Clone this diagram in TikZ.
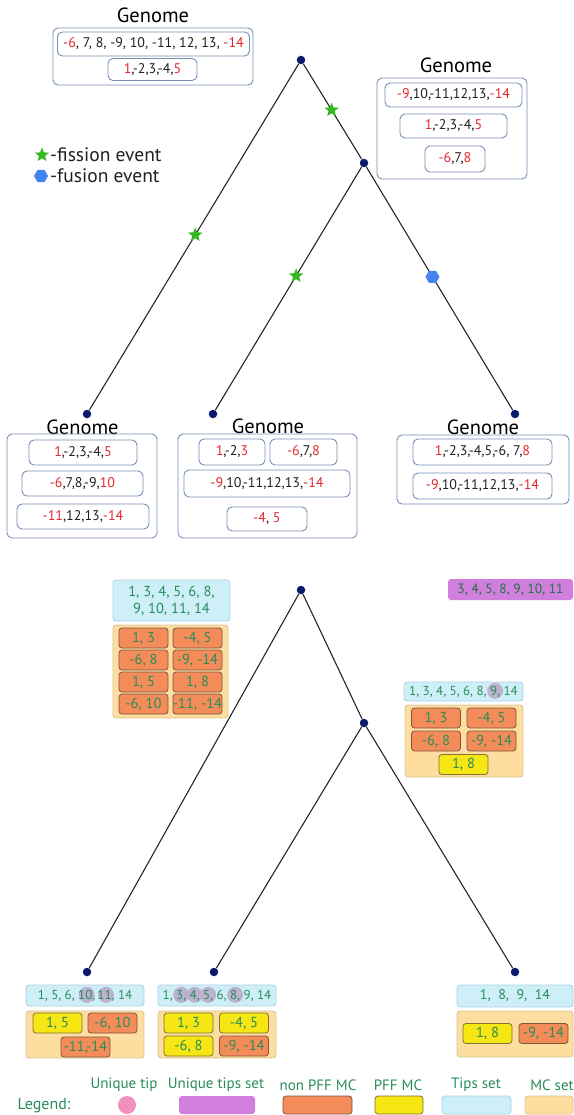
\documentclass[tikz,border=0pt]{standalone}
\usepackage{fontspec}
\setmainfont{PT Sans}
\usetikzlibrary{shapes.geometric}
\definecolor{gborder}{RGB}{120,140,180}
\definecolor{gred}{RGB}{228,38,45}
\definecolor{gtext}{RGB}{35,31,32}
\definecolor{navy}{RGB}{10,25,110}
\definecolor{stargreen}{RGB}{50,185,30}
\definecolor{hexblue}{RGB}{70,130,240}
\definecolor{tipfill}{RGB}{206,239,247}
\definecolor{tipdraw}{RGB}{170,210,225}
\definecolor{mcfill}{RGB}{253,222,160}
\definecolor{mcdraw}{RGB}{215,195,150}
\definecolor{npfill}{RGB}{244,140,90}
\definecolor{npdraw}{RGB}{125,85,65}
\definecolor{pffill}{RGB}{245,230,20}
\definecolor{pfdraw}{RGB}{130,115,50}
\definecolor{utsfill}{RGB}{208,128,220}
\definecolor{utfill}{RGB}{240,145,185}
\definecolor{ngreen}{RGB}{40,140,90}
\definecolor{hlc}{RGB}{188,178,208}
\newcommand\R[1]{\textcolor{gred}{#1}}
\newcommand\gfont{\fontsize{14}{16}\selectfont}
\newcommand\nfont{\fontsize{13}{16}\selectfont}
\newcommand\bfontsz{\fontsize{14.5}{17}\selectfont}
\newcommand\hlnum[1]{\tikz[baseline=(hq.base)]{\fill[hlc,overlay] (0pt,4.3pt) circle (8pt);\node[anchor=base,inner sep=0pt,outer sep=0pt,minimum width=0pt,minimum height=0pt,draw=none,fill=none,rounded corners=0pt,text=ngreen] (hq) at (0pt,0pt) {#1};}}
\begin{document}
\begin{tikzpicture}[x=1pt,y=-1pt,
  gout/.style={draw=gborder, rounded corners=5pt, line width=0.9pt},
  gin/.style={draw=gborder, rounded corners=5pt, line width=0.9pt, fill=white, font=\gfont, text=gtext, inner sep=0pt},
  glab/.style={font=\fontsize{20.5}{22}\selectfont, text=black, inner sep=0pt},
  tn/.style={circle, fill=navy, minimum size=8.5pt, inner sep=0pt},
  treeline/.style={line width=1.1pt, draw=black!85},
  fstar/.style={star, star points=5, star point ratio=2.3, fill=stargreen, minimum size=15pt, inner sep=0pt},
  fhex/.style={regular polygon, regular polygon sides=6, fill=hexblue, minimum size=14pt, inner sep=0pt},
  tipsbox/.style={fill=tipfill, draw=tipdraw, rounded corners=3pt, line width=0.8pt, font=\nfont, text=ngreen, inner sep=0pt},
  mcset/.style={fill=mcfill, draw=mcdraw, rounded corners=3pt, line width=0.8pt, inner sep=0pt},
  npff/.style={fill=npfill, draw=npdraw, rounded corners=3pt, line width=0.8pt, font=\bfontsz, text=ngreen, minimum width=49, minimum height=20, inner sep=0pt},
  pff/.style={fill=pffill, draw=pfdraw, rounded corners=3pt, line width=0.8pt, font=\bfontsz, text=ngreen, minimum width=49, minimum height=20, inner sep=0pt},
  utsbox/.style={fill=utsfill, rounded corners=3pt, font=\fontsize{13.5}{16}\selectfont, text=ngreen!80!black, inner sep=0pt},
  leglab/.style={font=\fontsize{15}{17}\selectfont, text=ngreen, inner sep=0pt},
  evlab/.style={font=\fontsize{19.5}{21}\selectfont, text=gtext, anchor=west, inner sep=0pt}
]
\useasboundingbox (0,0) rectangle (573,1115);

% ---------- top tree ----------
\node[tn] (r1) at (301,60) {};
\node[tn] (i1) at (364,163) {};
\node[tn] (a1) at (87,414) {};
\node[tn] (b1) at (213,414) {};
\node[tn] (c1) at (515,414) {};
\draw[treeline] (r1) -- (i1);
\draw[treeline] (r1) -- (a1);
\draw[treeline] (i1) -- (b1);
\draw[treeline] (i1) -- (c1);
\path (r1) -- (i1) node[fstar, pos=0.485] (s1) {};
\path (r1) -- (a1) node[fstar, pos=0.494] (s2) {};
\path (i1) -- (b1) node[fstar, pos=0.448] (s3) {};
\path (i1) -- (c1) node[fhex, pos=0.452] (h1) {};

% top-left genome
\node[glab] (g1lab) at (153,15) {Genome};
\node[gout, minimum width=200, minimum height=57] (g1) at (153,56.5) {};
\node[gin, minimum width=192, minimum height=24] (g1a) at (153.5,44) {\R{-6}, 7, 8, -9, 10, -11, 12, 13, \R{-14}};
\node[gin, minimum width=89, minimum height=22] (g1b) at (152.5,69.5) {\R{1},-2,3,-4,\R{5}};

% top-right genome
\node[glab] (g2lab) at (456,65) {Genome};
\node[gout, minimum width=150, minimum height=101] (g2) at (452,128.5) {};
\node[gin, minimum width=137, minimum height=24] (g2a) at (453.5,95) {\R{-9},10,-11,12,13,\R{-14}};
\node[gin, minimum width=107, minimum height=24] (g2b) at (453.5,126) {\R{1},-2,3,-4,\R{5}};
\node[gin, minimum width=60, minimum height=26] (g2c) at (455,159) {\R{-6},7,\R{8}};

% event legend
\node[fstar] (ls) at (42,155) {};
\node[evlab] (lst) at (50,155) {-fission event};
\node[fhex] (lh) at (41,176) {};
\node[evlab] (lht) at (50,176) {-fusion event};

% bottom-left genome
\node[glab] (g3lab) at (82.5,427) {Genome};
\node[gout, minimum width=150, minimum height=104] (g3) at (82,486) {};
\node[gin, minimum width=108, minimum height=25] (g3a) at (83,452.5) {\R{1},-2,3,-4,\R{5}};
\node[gin, minimum width=121, minimum height=25] (g3b) at (82.5,483.5) {\R{-6},7,8,-9,\R{10}};
\node[gin, minimum width=132, minimum height=25] (g3c) at (83,516.5) {\R{-11},12,13,\R{-14}};

% middle genome
\node[glab] (g4lab) at (268,426) {Genome};
\node[gout, minimum width=179, minimum height=104] (g4) at (267.5,486) {};
\node[gin, minimum width=66, minimum height=26] (g4a) at (232,452) {\R{1},-2,\R{3}};
\node[gin, minimum width=67, minimum height=26] (g4b) at (303.5,452) {\R{-6},7,\R{8}};
\node[gin, minimum width=166, minimum height=27] (g4c) at (267,483.5) {\R{-9},10,-11,12,13,\R{-14}};
\node[gin, minimum width=80, minimum height=24] (g4d) at (267,519) {\R{-4}, \R{5}};

% right genome
\node[glab] (g5lab) at (483,427) {Genome};
\node[gout, minimum width=172, minimum height=69] (g5) at (483,469.5) {};
\node[gin, minimum width=139, minimum height=26] (g5a) at (482.5,452) {\R{1},-2,3,-4,5,-6, 7,\R{8}};
\node[gin, minimum width=139, minimum height=26] (g5b) at (482.5,486) {\R{-9},10,-11,12,13,\R{-14}};

% ---------- bottom tree ----------
\node[tn] (r2) at (301,590) {};
\node[tn] (i2) at (364,723) {};
\node[tn] (a2) at (87,972) {};
\node[tn] (b2) at (214,972) {};
\node[tn] (c2) at (515,972) {};
\draw[treeline] (r2) -- (i2);
\draw[treeline] (r2) -- (a2);
\draw[treeline] (i2) -- (b2);
\draw[treeline] (i2) -- (c2);

% root sets
\node[tipsbox, font=\bfontsz, minimum width=117, minimum height=41, align=center] (t0) at (171.5,600.5) {1, 3, 4, 5, 6, 8,\\[0pt]9, 10, 11, 14};
\node[mcset, minimum width=115, minimum height=93] (m0) at (170.5,671.5) {};
\node[npff] (m0a) at (143.5,638) {1, 3};
\node[npff] (m0b) at (197.5,638) {-4, 5};
\node[npff] (m0c) at (143.5,660) {-6, 8};
\node[npff] (m0d) at (197.5,660) {-9, -14};
\node[npff] (m0e) at (143.5,682) {1, 5};
\node[npff] (m0f) at (197.5,682) {1, 8};
\node[npff] (m0g) at (143.5,704) {-6, 10};
\node[npff] (m0h) at (197.5,704) {-11, -14};

% unique tips set
\node[utsbox, minimum width=125, minimum height=21] (u0) at (510.5,589.5) {3, 4, 5, 8, 9, 10, 11};

% internal node sets
\node[tipsbox, minimum width=119, minimum height=19] (t1) at (463.5,691.5) {1, 3, 4, 5, 6, 8, \hlnum{9,} 14};
\node[mcset, minimum width=118, minimum height=72] (m1) at (464,741) {};
\node[npff] (m1a) at (436,718) {1, 3};
\node[npff] (m1b) at (491.5,718) {-4, 5};
\node[npff] (m1c) at (436,741) {-6, 8};
\node[npff] (m1d) at (491.5,741) {-9, -14};
\node[pff] (m1e) at (463.5,764.5) {1, 8};

% left leaf sets
\node[tipsbox, minimum width=118, minimum height=21] (t2) at (85,995.5) {1, 5, 6, \hlnum{10,}\,\hlnum{11,} 14};
\node[mcset, minimum width=118, minimum height=47] (m2) at (85,1034.5) {};
\node[pff] (m2a) at (57.5,1023) {1, 5};
\node[npff] (m2b) at (112.5,1023) {-6, 10};
\node[npff] (m2c) at (85.5,1047) {-11,-14};

% middle leaf sets
\node[tipsbox, minimum width=118, minimum height=21] (t3) at (217,995.5) {1, \hlnum{3,} \hlnum{4,} \hlnum{5,} 6, \hlnum{8,} 9, 14};
\node[mcset, minimum width=118, minimum height=47] (m3) at (217,1034.5) {};
\node[pff] (m3a) at (188.5,1023) {1, 3};
\node[pff] (m3b) at (244,1023) {-4, 5};
\node[pff] (m3c) at (188.5,1046) {-6, 8};
\node[npff] (m3d) at (244,1046) {-9, -14};

% right leaf sets
\node[tipsbox, font=\fontsize{14}{16}\selectfont, minimum width=116, minimum height=22] (t4) at (515,996) {1,\ \ 8,\ \ 9,\ \ 14};
\node[mcset, minimum width=116, minimum height=46] (m4) at (515,1034) {};
\node[pff] (m4a) at (487.5,1033.5) {1, 8};
\node[npff] (m4b) at (543.5,1033.5) {-9, -14};

% ---------- legend ----------
\node[font=\fontsize{16}{18}\selectfont, text=ngreen, inner sep=0pt] (lg) at (44,1106) {Legend:};
\node[leglab] (l1) at (124,1085) {Unique tip};
\node[leglab] (l2) at (216,1085) {Unique tips set};
\node[leglab] (l3) at (318,1085) {non PFF MC};
\node[leglab] (l4) at (398,1085) {PFF MC};
\node[leglab] (l5) at (476,1085) {Tips set};
\node[leglab] (l6) at (552,1085) {MC set};
\node[circle, fill=utfill, minimum size=18, inner sep=0pt] (k1) at (127,1105) {};
\node[utsbox, minimum width=76, minimum height=18] (k2) at (217,1105) {};
\node[npff, minimum width=69, minimum height=18] (k3) at (317.5,1105) {};
\node[pff, minimum width=48, minimum height=18] (k4) at (399,1105) {};
\node[tipsbox, minimum width=69, minimum height=18] (k5) at (476.5,1105) {};
\node[mcset, minimum width=48, minimum height=18] (k6) at (549,1105) {};
\end{tikzpicture}
\end{document}
